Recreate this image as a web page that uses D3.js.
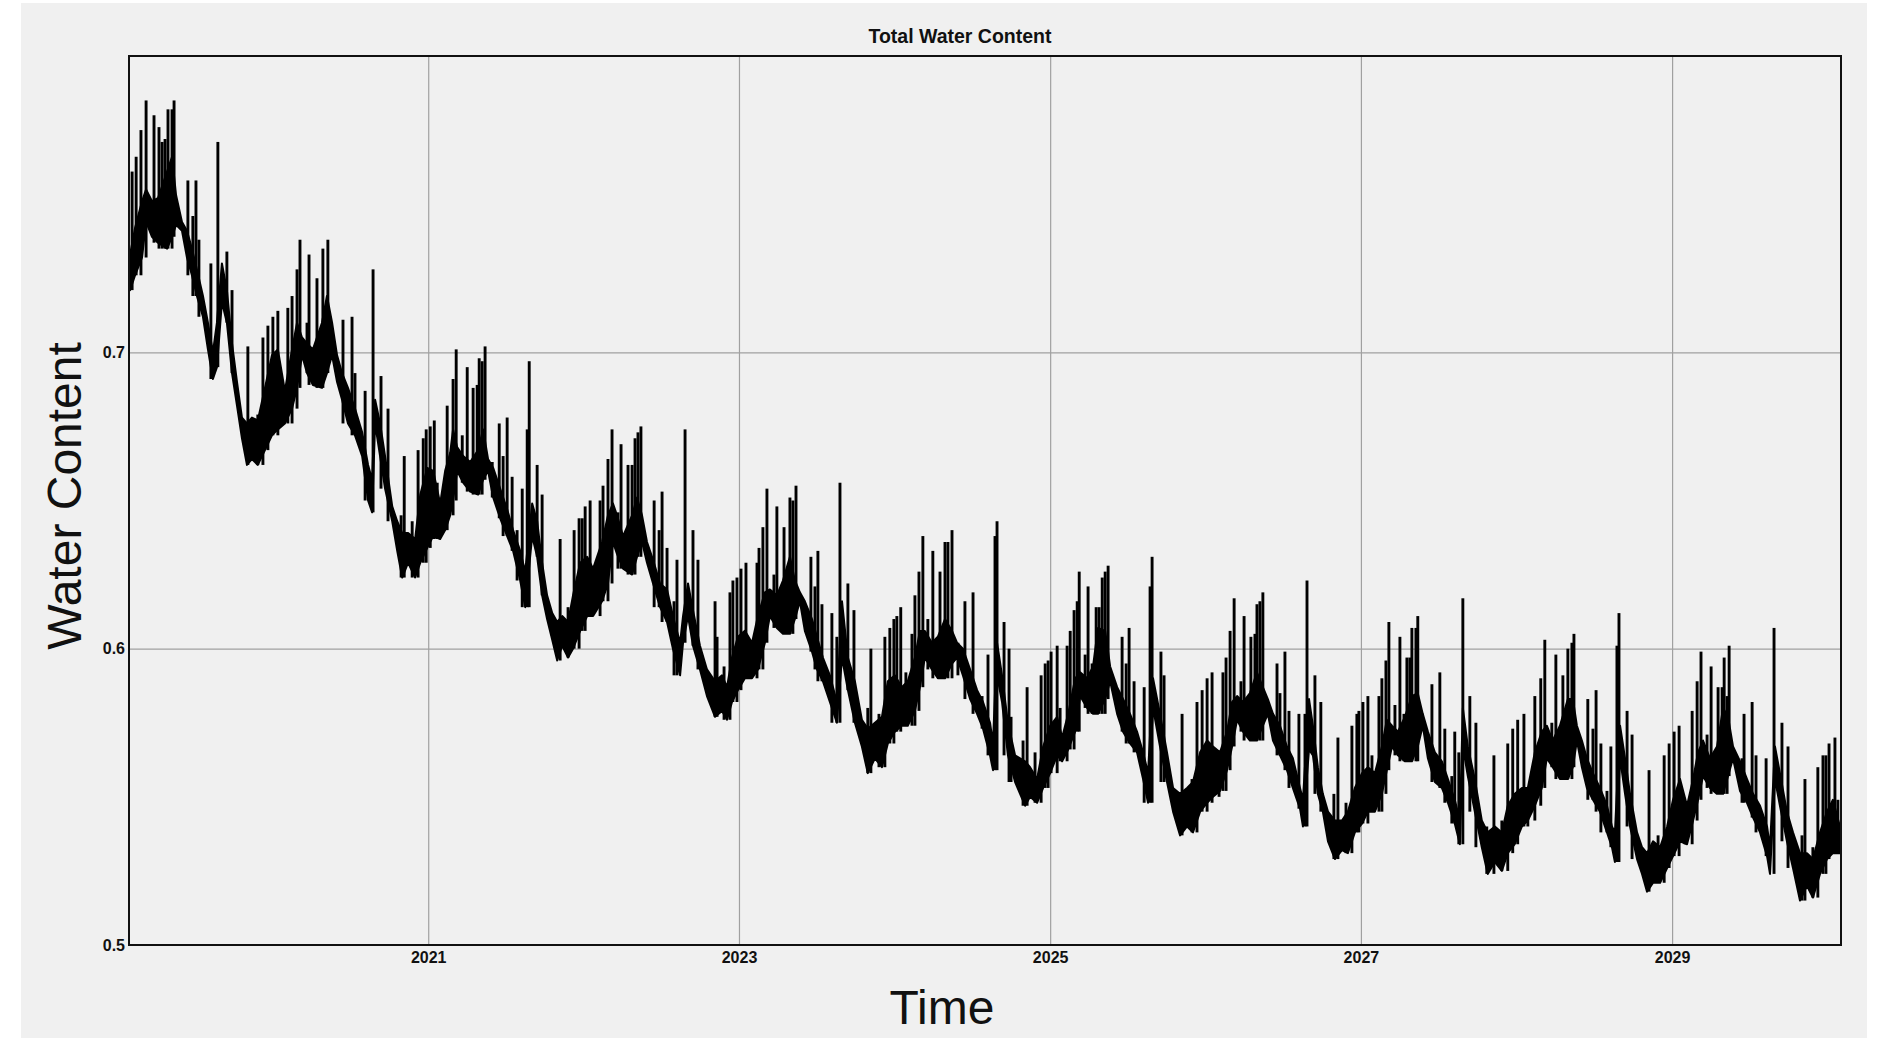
<!DOCTYPE html>
<html>
<head>
<meta charset="utf-8">
<script src="https://cdn.jsdelivr.net/npm/d3@7"></script>
<style>
  body { margin: 0; background: #fff; }
  svg { display: block; font-family: "Liberation Sans", Arial, sans-serif; }
</style>
</head>
<body>
<svg id="main" width="1879" height="1038"></svg>
<script>
// tick labels
const yearTicks = [2021, 2023, 2025, 2027, 2029];
const valueTicks = [0.5, 0.6, 0.7];

// daily series: [decimal year, lower edge, upper edge] of the dense band
const band = [
[2019.084,0.721,0.733],[2019.116,0.726,0.742],[2019.161,0.732,0.751],[2019.187,0.744,0.755],[2019.225,0.739,0.751],
[2019.263,0.737,0.752],[2019.322,0.735,0.761],[2019.354,0.739,0.766],[2019.380,0.743,0.753],[2019.418,0.741,0.744],
[2019.450,0.732,0.741],[2019.482,0.726,0.735],[2019.514,0.719,0.728],[2019.553,0.712,0.719],[2019.585,0.701,0.710],
[2019.617,0.691,0.700],[2019.643,0.695,0.710],[2019.675,0.717,0.730],[2019.707,0.710,0.721],[2019.740,0.693,0.703],
[2019.772,0.682,0.690],[2019.804,0.671,0.678],[2019.836,0.662,0.676],[2019.868,0.664,0.678],[2019.906,0.662,0.677],
[2019.952,0.667,0.688],[2019.997,0.672,0.699],[2020.035,0.674,0.701],[2020.080,0.676,0.687],[2020.126,0.681,0.701],
[2020.158,0.688,0.710],[2020.190,0.699,0.705],[2020.222,0.693,0.703],[2020.260,0.689,0.701],[2020.318,0.688,0.710],
[2020.350,0.693,0.719],[2020.383,0.699,0.710],[2020.415,0.690,0.699],[2020.447,0.684,0.693],[2020.485,0.676,0.688],
[2020.530,0.672,0.681],[2020.576,0.665,0.673],[2020.614,0.650,0.662],[2020.640,0.646,0.657],[2020.659,0.676,0.684],
[2020.691,0.665,0.676],[2020.723,0.654,0.665],[2020.769,0.643,0.648],[2020.801,0.633,0.643],[2020.833,0.624,0.639],
[2020.871,0.629,0.639],[2020.916,0.624,0.637],[2020.949,0.629,0.652],[2020.994,0.634,0.661],[2021.032,0.638,0.660],
[2021.077,0.637,0.649],[2021.109,0.640,0.660],[2021.141,0.645,0.666],[2021.160,0.650,0.674],[2021.186,0.660,0.668],
[2021.225,0.656,0.665],[2021.270,0.653,0.663],[2021.321,0.652,0.667],[2021.353,0.657,0.674],[2021.385,0.660,0.664],
[2021.418,0.651,0.661],[2021.463,0.644,0.654],[2021.508,0.638,0.647],[2021.546,0.633,0.640],[2021.592,0.623,0.633],
[2021.624,0.614,0.626],[2021.669,0.638,0.649],[2021.701,0.631,0.643],[2021.733,0.618,0.629],[2021.765,0.610,0.618],
[2021.798,0.603,0.612],[2021.830,0.596,0.609],[2021.862,0.601,0.611],[2021.900,0.597,0.609],[2021.932,0.600,0.618],
[2021.978,0.606,0.629],[2022.023,0.611,0.631],[2022.061,0.611,0.627],[2022.119,0.616,0.636],[2022.157,0.622,0.645],
[2022.189,0.636,0.649],[2022.215,0.632,0.645],[2022.254,0.627,0.638],[2022.312,0.625,0.645],[2022.344,0.631,0.651],
[2022.376,0.636,0.645],[2022.408,0.629,0.636],[2022.447,0.622,0.630],[2022.492,0.614,0.622],[2022.537,0.609,0.620],
[2022.575,0.600,0.611],[2022.621,0.591,0.602],[2022.640,0.602,0.611],[2022.672,0.611,0.622],[2022.704,0.601,0.613],
[2022.749,0.593,0.601],[2022.794,0.584,0.593],[2022.846,0.577,0.589],[2022.891,0.579,0.591],[2022.923,0.576,0.587],
[2022.955,0.582,0.597],[2022.993,0.586,0.604],[2023.038,0.590,0.606],[2023.084,0.590,0.602],[2023.122,0.593,0.611],
[2023.167,0.602,0.619],[2023.199,0.611,0.620],[2023.244,0.607,0.618],[2023.283,0.605,0.623],[2023.328,0.605,0.631],
[2023.360,0.610,0.623],[2023.392,0.616,0.619],[2023.424,0.606,0.616],[2023.470,0.599,0.610],[2023.502,0.593,0.604],
[2023.540,0.589,0.597],[2023.585,0.582,0.591],[2023.630,0.575,0.582],[2023.663,0.597,0.616],[2023.701,0.586,0.597],
[2023.746,0.575,0.589],[2023.791,0.567,0.576],[2023.829,0.558,0.573],[2023.875,0.563,0.575],[2023.920,0.560,0.577],
[2023.958,0.568,0.589],[2024.003,0.572,0.591],[2024.048,0.574,0.587],[2024.086,0.574,0.589],[2024.132,0.579,0.597],
[2024.164,0.587,0.606],[2024.196,0.597,0.606],[2024.241,0.593,0.602],[2024.279,0.590,0.604],[2024.325,0.590,0.610],
[2024.370,0.595,0.606],[2024.402,0.597,0.602],[2024.440,0.591,0.600],[2024.486,0.583,0.593],[2024.531,0.578,0.586],
[2024.569,0.573,0.582],[2024.614,0.564,0.575],[2024.633,0.559,0.568],[2024.659,0.591,0.602],[2024.691,0.582,0.591],
[2024.729,0.564,0.575],[2024.775,0.555,0.564],[2024.807,0.551,0.563],[2024.839,0.547,0.562],[2024.871,0.550,0.560],
[2024.916,0.548,0.556],[2024.955,0.553,0.567],[2025.000,0.558,0.574],[2025.045,0.564,0.577],[2025.077,0.562,0.570],
[2025.116,0.566,0.578],[2025.161,0.572,0.590],[2025.193,0.584,0.592],[2025.238,0.580,0.590],[2025.276,0.578,0.594],
[2025.308,0.578,0.607],[2025.354,0.583,0.606],[2025.386,0.589,0.594],[2025.431,0.578,0.587],[2025.469,0.572,0.583],
[2025.514,0.568,0.578],[2025.559,0.565,0.572],[2025.598,0.556,0.565],[2025.630,0.548,0.558],[2025.662,0.580,0.590],
[2025.707,0.567,0.578],[2025.752,0.555,0.565],[2025.791,0.545,0.553],[2025.836,0.537,0.551],[2025.881,0.540,0.553],
[2025.919,0.538,0.555],[2025.965,0.545,0.565],[2026.010,0.548,0.569],[2026.048,0.550,0.567],[2026.093,0.552,0.565],
[2026.138,0.559,0.572],[2026.171,0.567,0.582],[2026.203,0.576,0.584],[2026.241,0.572,0.582],[2026.286,0.569,0.585],
[2026.331,0.569,0.592],[2026.369,0.574,0.587],[2026.401,0.578,0.583],[2026.434,0.569,0.578],[2026.479,0.564,0.574],
[2026.524,0.559,0.567],[2026.562,0.553,0.563],[2026.608,0.546,0.553],[2026.627,0.540,0.549],[2026.666,0.566,0.583],
[2026.691,0.564,0.574],[2026.723,0.551,0.560],[2026.755,0.545,0.551],[2026.788,0.535,0.545],[2026.833,0.529,0.542],
[2026.878,0.532,0.542],[2026.916,0.531,0.545],[2026.961,0.538,0.553],[2027.007,0.541,0.558],[2027.045,0.545,0.560],
[2027.090,0.545,0.558],[2027.135,0.551,0.567],[2027.167,0.559,0.576],[2027.200,0.567,0.574],[2027.238,0.564,0.572],
[2027.283,0.562,0.577],[2027.328,0.562,0.584],[2027.366,0.567,0.585],[2027.398,0.574,0.578],[2027.431,0.563,0.572],
[2027.476,0.555,0.565],[2027.521,0.553,0.562],[2027.560,0.548,0.556],[2027.604,0.541,0.549],[2027.637,0.534,0.542],
[2027.656,0.567,0.580],[2027.688,0.557,0.567],[2027.733,0.545,0.556],[2027.778,0.533,0.542],[2027.816,0.524,0.538],
[2027.862,0.528,0.540],[2027.907,0.525,0.538],[2027.945,0.531,0.547],[2027.990,0.534,0.551],[2028.036,0.540,0.553],
[2028.074,0.542,0.553],[2028.119,0.547,0.565],[2028.164,0.553,0.572],[2028.196,0.563,0.574],[2028.234,0.560,0.569],
[2028.280,0.556,0.574],[2028.331,0.556,0.583],[2028.363,0.560,0.583],[2028.389,0.569,0.574],[2028.421,0.560,0.569],
[2028.453,0.553,0.563],[2028.492,0.549,0.558],[2028.537,0.545,0.553],[2028.582,0.538,0.547],[2028.614,0.533,0.540],
[2028.633,0.528,0.538],[2028.666,0.563,0.574],[2028.698,0.551,0.563],[2028.730,0.540,0.551],[2028.775,0.529,0.538],
[2028.807,0.524,0.533],[2028.839,0.518,0.531],[2028.878,0.521,0.535],[2028.923,0.521,0.533],[2028.968,0.526,0.540],
[2029.006,0.530,0.549],[2029.051,0.535,0.556],[2029.096,0.534,0.547],[2029.135,0.542,0.556],[2029.167,0.549,0.565],
[2029.199,0.557,0.569],[2029.244,0.553,0.563],[2029.289,0.551,0.567],[2029.328,0.551,0.580],[2029.360,0.557,0.577],
[2029.392,0.563,0.567],[2029.437,0.552,0.562],[2029.482,0.548,0.556],[2029.521,0.543,0.551],[2029.566,0.538,0.547],
[2029.611,0.530,0.540],[2029.630,0.524,0.533],[2029.662,0.556,0.567],[2029.694,0.547,0.558],[2029.739,0.535,0.545],
[2029.778,0.526,0.538],[2029.823,0.515,0.531],[2029.868,0.520,0.531],[2029.906,0.516,0.529],[2029.952,0.524,0.538],
[2029.997,0.529,0.545],[2030.035,0.531,0.549],[2030.080,0.531,0.540]
];

// short wet events: [decimal year, peak water content]
const spikes = [
[2019.097,0.761],[2019.123,0.766],[2019.154,0.775],[2019.187,0.785],[2019.238,0.780],[2019.270,0.776],[2019.290,0.771],
[2019.309,0.772],[2019.328,0.782],[2019.354,0.782],[2019.367,0.785],[2019.456,0.758],[2019.488,0.746],[2019.508,0.758],
[2019.527,0.738],[2019.604,0.730],[2019.649,0.771],[2019.707,0.734],[2019.740,0.721],[2019.842,0.702],[2019.906,0.679],
[2019.939,0.705],[2019.971,0.709],[2020.003,0.712],[2020.035,0.714],[2020.099,0.715],[2020.126,0.719],[2020.158,0.728],
[2020.177,0.738],[2020.222,0.710],[2020.235,0.733],[2020.286,0.725],[2020.324,0.735],[2020.356,0.738],[2020.453,0.711],
[2020.511,0.712],[2020.530,0.693],[2020.595,0.687],[2020.646,0.728],[2020.697,0.692],[2020.742,0.681],[2020.826,0.645],
[2020.846,0.665],[2020.897,0.643],[2020.935,0.667],[2020.968,0.671],
[2020.987,0.674],[2021.013,0.675],[2021.039,0.677],[2021.058,0.656],[2021.122,0.682],[2021.160,0.691],[2021.180,0.701],
[2021.219,0.672],[2021.251,0.695],[2021.289,0.688],[2021.315,0.689],[2021.328,0.698],[2021.347,0.697],[2021.366,0.702],
[2021.412,0.663],[2021.457,0.676],[2021.482,0.665],[2021.508,0.678],[2021.540,0.658],[2021.572,0.640],[2021.605,0.654],
[2021.637,0.674],[2021.650,0.697],[2021.701,0.662],[2021.733,0.652],[2021.849,0.637],[2021.900,0.614],[2021.939,0.640],
[2021.971,0.644],[2021.991,0.644],[2022.010,0.648],[2022.042,0.650],[2022.106,0.650],[2022.125,0.655],[2022.157,0.664],
[2022.183,0.674],[2022.221,0.646],[2022.241,0.669],[2022.286,0.662],[2022.312,0.662],[2022.331,0.671],[2022.350,0.673],
[2022.369,0.675],[2022.454,0.650],[2022.486,0.640],[2022.505,0.653],[2022.537,0.634],[2022.582,0.616],[2022.601,0.630],
[2022.653,0.674],[2022.704,0.640],[2022.736,0.630],[2022.846,0.616],[2022.859,0.604],
[2022.904,0.594],[2022.942,0.619],[2022.961,0.623],[2022.987,0.624],[2023.013,0.627],[2023.045,0.629],[2023.116,0.629],
[2023.129,0.634],[2023.154,0.641],[2023.180,0.654],[2023.225,0.625],[2023.244,0.648],[2023.290,0.641],[2023.328,0.651],
[2023.347,0.650],[2023.367,0.655],[2023.463,0.631],[2023.489,0.621],[2023.508,0.633],[2023.534,0.615],[2023.598,0.612],
[2023.630,0.604],[2023.650,0.656],[2023.701,0.622],[2023.740,0.613],[2023.829,0.580],[2023.849,0.600],[2023.901,0.578],
[2023.939,0.604],[2023.971,0.607],[2023.997,0.610],[2024.016,0.611],[2024.041,0.614],[2024.074,0.592],[2024.113,0.605],
[2024.132,0.618],[2024.158,0.626],[2024.183,0.638],[2024.215,0.610],[2024.247,0.633],[2024.293,0.626],[2024.325,0.636],
[2024.344,0.636],[2024.370,0.640],[2024.408,0.602],[2024.453,0.616],[2024.505,0.619],[2024.563,0.584],[2024.601,0.598],
[2024.646,0.638],[2024.659,0.643],[2024.704,0.609],[2024.736,0.600],
[2024.749,0.577],[2024.826,0.569],[2024.852,0.587],[2024.903,0.565],[2024.942,0.591],[2024.968,0.595],[2024.987,0.596],
[2025.006,0.599],[2025.045,0.601],[2025.064,0.580],[2025.109,0.601],[2025.129,0.606],[2025.154,0.613],[2025.174,0.616],
[2025.187,0.626],[2025.225,0.598],[2025.244,0.621],[2025.270,0.595],[2025.296,0.614],[2025.315,0.614],[2025.335,0.624],
[2025.354,0.626],[2025.373,0.628],[2025.463,0.604],[2025.489,0.595],[2025.508,0.607],[2025.540,0.589],[2025.605,0.587],
[2025.643,0.621],[2025.656,0.631],[2025.713,0.599],[2025.733,0.591],[2025.849,0.578],[2025.913,0.556],[2025.945,0.582],
[2025.978,0.586],[2026.010,0.590],[2026.042,0.592],[2026.087,0.565],[2026.112,0.592],[2026.132,0.597],[2026.158,0.606],
[2026.184,0.617],[2026.228,0.589],[2026.248,0.611],[2026.292,0.604],[2026.318,0.605],[2026.331,0.615],[2026.350,0.616],
[2026.369,0.619],[2026.460,0.595],[2026.479,0.585],[2026.511,0.599],[2026.537,0.579],[2026.601,0.578],[2026.640,0.578],
[2026.653,0.623],
[2026.704,0.591],[2026.742,0.582],[2026.826,0.551],[2026.852,0.570],[2026.904,0.548],[2026.942,0.574],[2026.974,0.578],
[2026.987,0.579],[2027.013,0.582],[2027.045,0.584],[2027.071,0.564],[2027.116,0.584],[2027.135,0.590],[2027.161,0.596],
[2027.180,0.609],[2027.219,0.581],[2027.251,0.604],[2027.277,0.578],[2027.296,0.597],[2027.315,0.597],[2027.328,0.607],
[2027.354,0.607],[2027.366,0.611],[2027.457,0.588],[2027.508,0.592],[2027.540,0.573],[2027.585,0.557],[2027.604,0.572],
[2027.630,0.565],[2027.656,0.617],[2027.701,0.584],[2027.740,0.575],[2027.810,0.540],[2027.856,0.564],[2027.907,0.542],
[2027.945,0.568],[2027.977,0.573],[2028.009,0.576],[2028.049,0.578],[2028.074,0.551],[2028.119,0.584],[2028.157,0.590],
[2028.183,0.603],[2028.228,0.575],[2028.254,0.598],[2028.299,0.591],[2028.331,0.600],[2028.357,0.602],[2028.370,0.605],
[2028.459,0.583],[2028.492,0.573],[2028.512,0.586],[2028.543,0.568],[2028.582,0.552],[2028.607,0.567],[2028.646,0.601],
[2028.659,0.612],[2028.711,0.579],[2028.743,0.571],[2028.852,0.559],[2028.910,0.537],[2028.949,0.564],[2028.981,0.568],
[2029.013,0.572],[2029.045,0.574],[2029.083,0.547],[2029.129,0.579],[2029.161,0.589],[2029.186,0.599],[2029.225,0.571],
[2029.251,0.594],[2029.296,0.587],[2029.322,0.587],[2029.335,0.597],[2029.354,0.584],[2029.367,0.601],[2029.450,0.563],
[2029.463,0.578],[2029.515,0.582],[2029.540,0.564],[2029.605,0.563],[2029.656,0.607],[2029.707,0.575],[2029.746,0.567],
[2029.836,0.537],[2029.855,0.556],[2029.906,0.533],[2029.938,0.560],[2029.971,0.564],[2029.990,0.564],[2030.010,0.568],
[2030.048,0.570],[2030.067,0.549]
];

const plotL = 129, plotR = 1841, plotT = 56, plotB = 945;

// decimal year -> Date
function toDate(yr) {
    const y0 = Math.floor(yr);
    const a = Date.UTC(y0, 0, 1), b = Date.UTC(y0 + 1, 0, 1);
    return new Date(a + (yr - y0) * (b - a));
}

let svg = d3.select('svg#main');

// grey panel
svg.append('rect')
    .attr('x', 21).attr('y', 3)
    .attr('width', 1846).attr('height', 1035)
    .attr('fill', '#f0f0f0');

const xAx = d3.scaleUtc()
    .domain([toDate(2019.077), toDate(2030.087)])
    .range([plotL, plotR]);
const yAx = d3.scaleLinear()
    .domain([0.5, 0.8])
    .range([plotB, plotT]);

// grid
svg.append('g')
    .attr('transform', `translate(0,${plotB})`)
    .call(d3.axisBottom(xAx).tickValues(yearTicks.map(toDate)).tickSize(-(plotB - plotT)).tickFormat(''))
    .call(g => g.select('.domain').remove())
    .selectAll('line').attr('stroke', '#a0a0a0').attr('stroke-width', 1.2);
svg.append('g')
    .attr('transform', `translate(${plotL},0)`)
    .call(d3.axisLeft(yAx).tickValues(valueTicks.filter(v => v > 0.5)).tickSize(-(plotR - plotL)).tickFormat(''))
    .call(g => g.select('.domain').remove())
    .selectAll('line').attr('stroke', '#a0a0a0').attr('stroke-width', 1.2);

// tick labels
svg.append('g')
    .attr('transform', `translate(0,${plotB})`)
    .call(d3.axisBottom(xAx).tickValues(yearTicks.map(toDate)).tickSize(0).tickPadding(7).tickFormat(d3.utcFormat('%Y')))
    .call(g => g.select('.domain').remove())
    .selectAll('text')
    .attr('font-family', '"Liberation Sans", Arial, sans-serif')
    .attr('font-size', 16).attr('font-weight', 'bold').attr('fill', '#111');
svg.append('g')
    .attr('transform', `translate(${plotL},0)`)
    .call(d3.axisLeft(yAx).tickValues(valueTicks).tickSize(0).tickPadding(4).tickFormat(d3.format('.1f')))
    .call(g => g.select('.domain').remove())
    .selectAll('text')
    .attr('font-family', '"Liberation Sans", Arial, sans-serif')
    .attr('font-size', 16).attr('font-weight', 'bold').attr('fill', '#111');

// data
svg.append('clipPath').attr('id', 'plotclip')
    .append('rect').attr('x', plotL).attr('y', plotT).attr('width', plotR - plotL).attr('height', plotB - plotT);
const plot = svg.append('g').attr('clip-path', 'url(#plotclip)');

const area = d3.area()
    .x(d => xAx(toDate(d[0])))
    .y0(d => yAx(d[1]))
    .y1(d => yAx(d[2]));
plot.append('path')
    .datum(band)
    .attr('d', area)
    .attr('fill', '#000')
    .attr('stroke', '#000')
    .attr('stroke-width', 2)
    .attr('stroke-linejoin', 'round');

const bis = d3.bisector(d => d[0]).left;
function baseOf(t) {
    const i = bis(band, t);
    const a = band[Math.max(i - 1, 0)], b = band[Math.min(i, band.length - 1)];
    return Math.min(a[1], b[1]);
}
plot.selectAll('line.spike')
    .data(spikes)
    .join('line')
    .attr('class', 'spike')
    .attr('x1', d => xAx(toDate(d[0])))
    .attr('x2', d => xAx(toDate(d[0])))
    .attr('y1', d => yAx(baseOf(d[0])))
    .attr('y2', d => yAx(d[1]))
    .attr('stroke', '#000')
    .attr('stroke-width', 2.9);

// frame
svg.append('rect')
    .attr('x', plotL).attr('y', plotT)
    .attr('width', plotR - plotL).attr('height', plotB - plotT)
    .attr('fill', 'none')
    .attr('stroke', '#111')
    .attr('stroke-width', 2);

// titles
svg.append('text')
    .attr('x', 960).attr('y', 43)
    .attr('text-anchor', 'middle')
    .attr('font-size', 19.5).attr('font-weight', 'bold').attr('fill', '#111')
    .text('Total Water Content');
svg.append('text')
    .attr('transform', 'translate(81,496) rotate(-90)')
    .attr('text-anchor', 'middle')
    .attr('font-size', 48).attr('fill', '#111')
    .text('Water Content');
svg.append('text')
    .attr('x', 942).attr('y', 1024)
    .attr('text-anchor', 'middle')
    .attr('font-size', 48).attr('fill', '#111')
    .text('Time');
</script>
</body>
</html>
